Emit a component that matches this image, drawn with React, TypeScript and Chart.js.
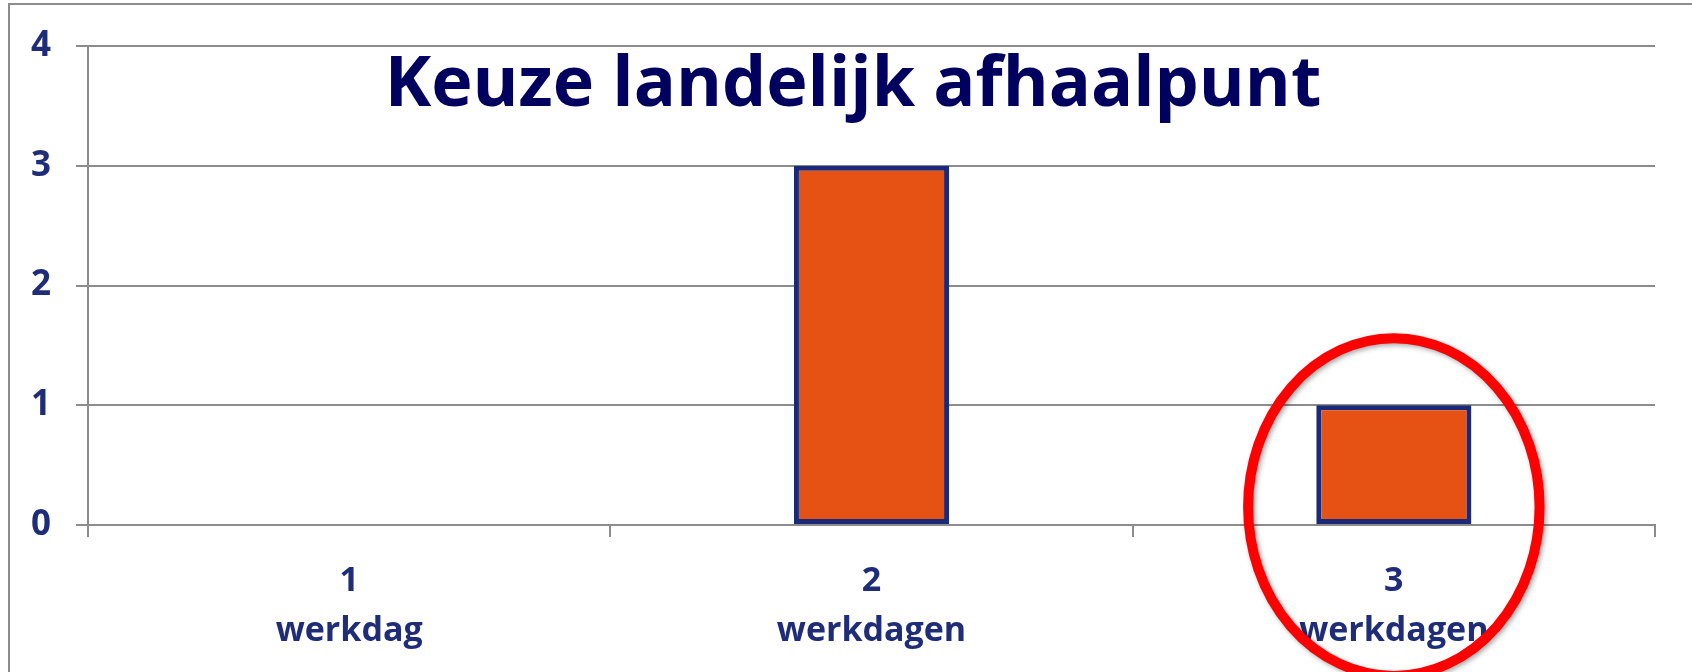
import React, { useEffect, useRef } from "react";
import { Chart, registerables } from "chart.js";

Chart.register(...registerables);

const chartTitle = "Keuze landelijk afhaalpunt";
const categories: string[][] = [
  ["1", "werkdag"],
  ["2", "werkdagen"],
  ["3", "werkdagen"],
];
const values: number[] = [0, 3, 1];
const yTicks: number[] = [0, 1, 2, 3, 4];
const highlightIndex = 2;

const LABEL_COLOR = "#1f2d78";
const TITLE_COLOR = "#00005e";
const GRID_COLOR = "#8c8c8c";
const BAR_FILL = "#e65214";
const BAR_BORDER = "#1a2a78";
const FONT = "'Open Sans', Lato, sans-serif";

const decorPlugin = {
  id: "decor",
  beforeDraw(chart: any) {
    const ctx = chart.ctx;
    ctx.save();
    ctx.fillStyle = "#ffffff";
    ctx.fillRect(0, 0, chart.width, chart.height);
    ctx.strokeStyle = GRID_COLOR;
    ctx.lineWidth = 2;
    ctx.strokeRect(9, 4, chart.width + 20, chart.height + 20);
    ctx.restore();
  },
  afterDraw(chart: any) {
    const ctx = chart.ctx;
    const xs = chart.scales.x;
    const ys = chart.scales.y;
    // title
    ctx.save();
    ctx.fillStyle = TITLE_COLOR;
    ctx.font = `bold 70px ${FONT}`;
    ctx.textAlign = "center";
    ctx.textBaseline = "alphabetic";
    ctx.fillText(chartTitle, 853, 106);
    ctx.restore();
    // highlight ellipse
    const cx = xs.getPixelForValue(highlightIndex);
    const unit = ys.getPixelForValue(0) - ys.getPixelForValue(1);
    const cy = ys.getPixelForValue(0) - unit * 0.15;
    const catW = xs.width / categories.length;
    ctx.save();
    ctx.strokeStyle = "#ff0000";
    ctx.lineWidth = 10;
    ctx.shadowColor = "rgba(0,0,0,0.35)";
    ctx.shadowBlur = 5;
    ctx.shadowOffsetX = 2;
    ctx.shadowOffsetY = 2;
    ctx.beginPath();
    ctx.ellipse(cx, cy, catW * 0.279, unit * 1.41, 0, 0, Math.PI * 2);
    ctx.stroke();
    ctx.restore();
  },
};

export default function App() {
  const ref = useRef<HTMLCanvasElement | null>(null);
  useEffect(() => {
    if (!ref.current) return;
    const chart = new Chart(ref.current, {
      type: "bar",
      data: {
        labels: categories,
        datasets: [
          {
            data: values,
            backgroundColor: BAR_FILL,
            borderColor: BAR_BORDER,
            borderWidth: 5,
            borderSkipped: false,
            barPercentage: 0.297,
            categoryPercentage: 1,
          },
        ],
      },
      options: {
        animation: false,
        responsive: false,
        maintainAspectRatio: false,
        layout: { padding: { left: 0, right: 37, top: 45, bottom: 0 } },
        plugins: {
          legend: { display: false },
          title: { display: false },
          tooltip: { enabled: false },
        },
        scales: {
          x: {
            afterFit: (s: any) => {
              s.height = 147;
            },
            grid: {
              drawOnChartArea: false,
              drawTicks: true,
              tickLength: 12,
              color: GRID_COLOR,
              lineWidth: 2,
              offset: true,
            },
            border: { color: GRID_COLOR, width: 2 },
            ticks: {
              color: LABEL_COLOR,
              font: { family: FONT, size: 34, weight: "bold", lineHeight: 1.45 },
              padding: 20,
              maxRotation: 0,
              autoSkip: false,
            },
          },
          y: {
            min: 0,
            max: 4,
            afterFit: (s: any) => {
              s.width = 88;
            },
            afterBuildTicks: (s: any) => {
              s.ticks = yTicks.map((v) => ({ value: v }));
            },
            grid: {
              color: GRID_COLOR,
              lineWidth: 2,
              tickLength: 12,
            },
            border: { color: GRID_COLOR, width: 2 },
            ticks: {
              color: LABEL_COLOR,
              font: { family: FONT, size: 35, weight: "bold" },
              padding: 25,
            },
          },
        },
      },
      plugins: [decorPlugin],
    });
    return () => chart.destroy();
  }, []);
  return (
    <div style={{ position: "fixed", left: 0, top: 0, width: 1692, height: 672, background: "#fff" }}>
      <canvas ref={ref} width={1692} height={672} style={{ display: "block" }} />
    </div>
  );
}
